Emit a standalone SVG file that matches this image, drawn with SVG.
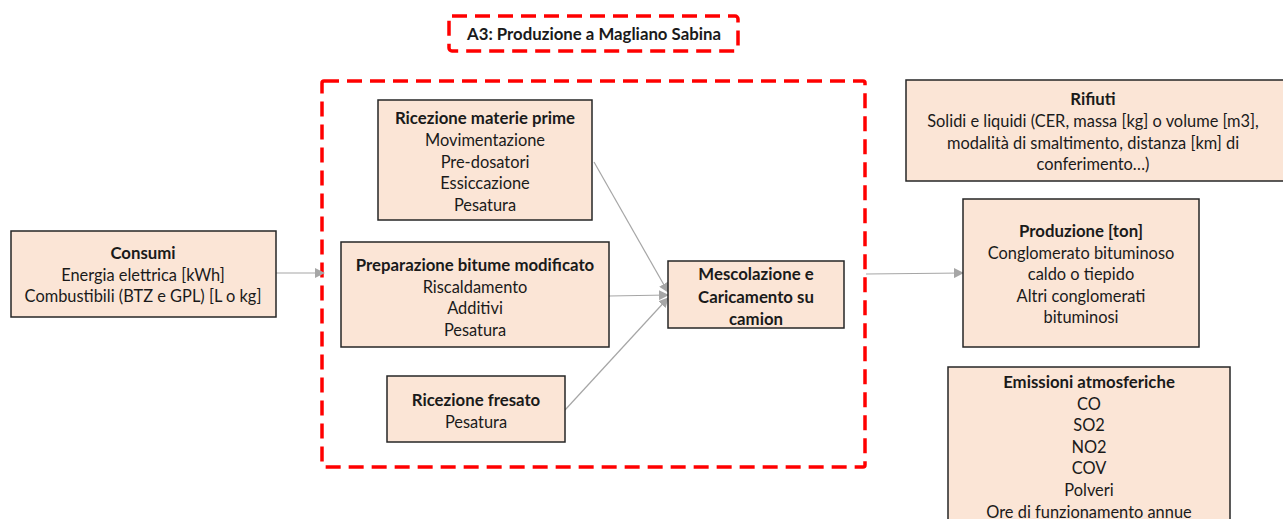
<svg xmlns="http://www.w3.org/2000/svg" width="1283" height="519" viewBox="0 0 1283 519">
<style>
.box{fill:#FBE5D6;stroke:#262626;stroke-width:1.5}
.dash{fill:none;stroke:#FF0000;stroke-width:3.5;stroke-dasharray:15 8}
text{font-family:Lato,"Liberation Sans",sans-serif;font-size:16.4px;fill:#1a1a1a;text-anchor:middle;dominant-baseline:central}
.b{font-weight:bold;font-size:16.8px}
.c{fill:none;stroke:#A6A6A6;stroke-width:1.2}
</style>
<defs>
<marker id="ah" markerWidth="10" markerHeight="10" refX="9" refY="5" orient="auto" markerUnits="userSpaceOnUse">
<path d="M0,0 L10,5 L0,10 Z" fill="#A6A6A6"/>
</marker>
</defs>
<rect width="1283" height="519" fill="#fff"/>
<g id="title">
<rect class="dash" x="449" y="16" width="289" height="35" rx="3"/>
<text class="b" x="594" y="33">A3: Produzione a Magliano Sabina</text>
</g>
<g id="plant">
<rect class="dash" x="322" y="81" width="543" height="386" rx="2"/>
</g>
<g id="connectors">
<line class="c" x1="276" y1="273" x2="324" y2="273" marker-end="url(#ah)"/>
<line class="c" x1="594" y1="162" x2="668" y2="292" marker-end="url(#ah)"/>
<line class="c" x1="609" y1="296" x2="668" y2="295" marker-end="url(#ah)"/>
<line class="c" x1="565" y1="410" x2="668" y2="298" marker-end="url(#ah)"/>
<line class="c" x1="866" y1="274" x2="963" y2="273" marker-end="url(#ah)"/>
</g>
<g id="consumi">
<rect class="box" x="11" y="231" width="265" height="86"/>
<text class="b" x="143" y="252">Consumi</text>
<text x="143" y="274">Energia elettrica [kWh]</text>
<text x="143" y="295">Combustibili (BTZ e GPL) [L o kg]</text>
</g>
<g id="ricezione-materie">
<rect class="box" x="378" y="100" width="214" height="120"/>
<text class="b" x="485" y="117">Ricezione materie prime</text>
<text x="485" y="139">Movimentazione</text>
<text x="485" y="161">Pre-dosatori</text>
<text x="485" y="182">Essiccazione</text>
<text x="485" y="204">Pesatura</text>
</g>
<g id="preparazione">
<rect class="box" x="341" y="242" width="268" height="105"/>
<text class="b" x="475" y="264">Preparazione bitume modificato</text>
<text x="475" y="286">Riscaldamento</text>
<text x="475" y="307">Additivi</text>
<text x="475" y="329">Pesatura</text>
</g>
<g id="fresato">
<rect class="box" x="387" y="376" width="178" height="66"/>
<text class="b" x="476" y="399">Ricezione fresato</text>
<text x="476" y="421">Pesatura</text>
</g>
<g id="mescolazione">
<rect class="box" x="668" y="261" width="176" height="67"/>
<text class="b" x="756" y="273">Mescolazione e</text>
<text class="b" x="756" y="296">Caricamento su</text>
<text class="b" x="756" y="318">camion</text>
</g>
<g id="rifiuti">
<rect class="box" x="906" y="80" width="380" height="101"/>
<text class="b" x="1093" y="98">Rifiuti</text>
<text x="1093" y="120">Solidi e liquidi (CER, massa [kg] o volume [m3],</text>
<text x="1093" y="142">modalità di smaltimento, distanza [km] di</text>
<text x="1093" y="163">conferimento…)</text>
</g>
<g id="produzione">
<rect class="box" x="963" y="199" width="236" height="148"/>
<text class="b" x="1081" y="230">Produzione [ton]</text>
<text x="1081" y="252">Conglomerato bituminoso</text>
<text x="1081" y="273">caldo o tiepido</text>
<text x="1081" y="295">Altri conglomerati</text>
<text x="1081" y="316">bituminosi</text>
</g>
<g id="emissioni">
<rect class="box" x="948" y="367" width="282" height="160"/>
<text class="b" x="1089" y="381">Emissioni atmosferiche</text>
<text x="1089" y="403">CO</text>
<text x="1089" y="424">SO2</text>
<text x="1089" y="446">NO2</text>
<text x="1089" y="467">COV</text>
<text x="1089" y="489">Polveri</text>
<text x="1089" y="511">Ore di funzionamento annue</text>
</g>
</svg>
